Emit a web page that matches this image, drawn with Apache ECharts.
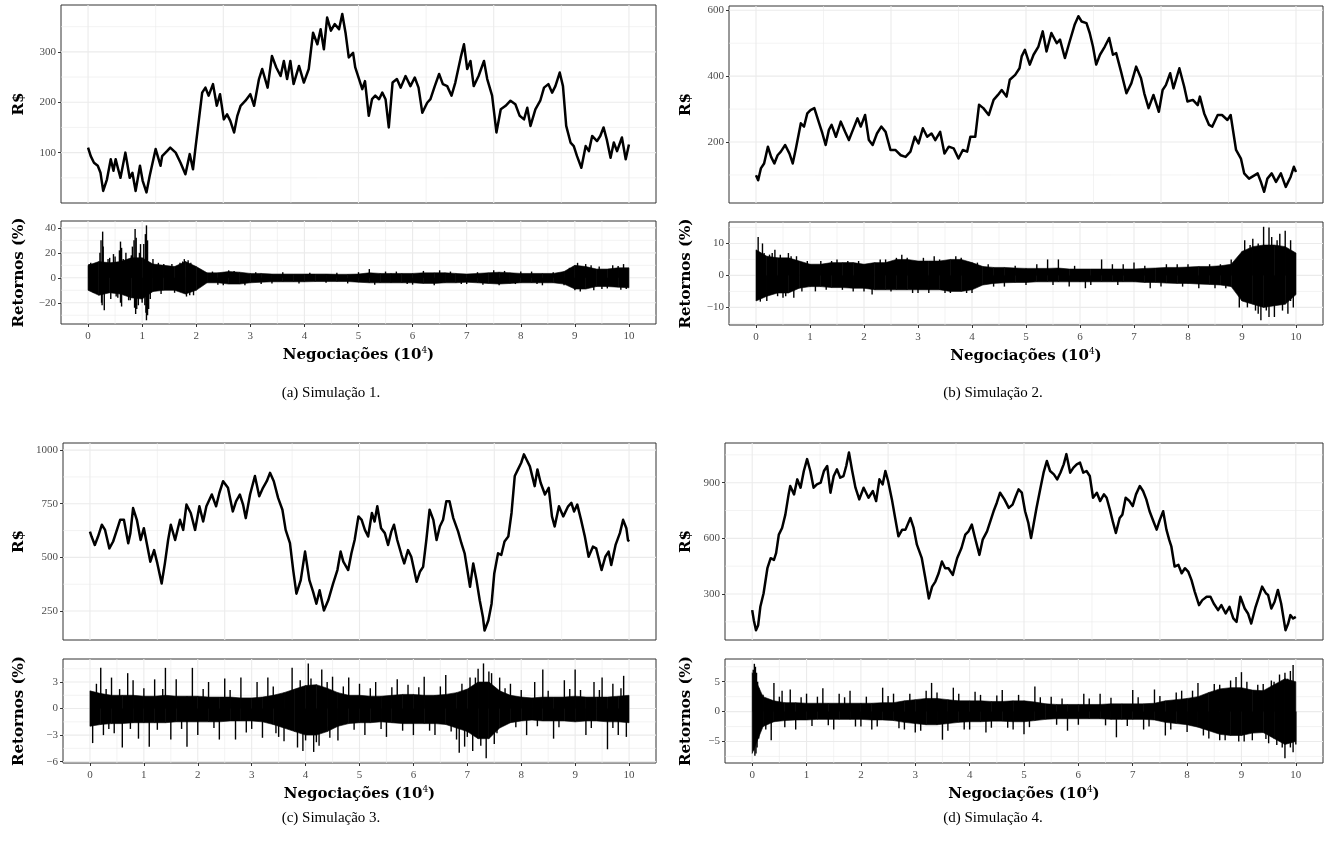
<!DOCTYPE html>
<html>
<head>
<meta charset="utf-8">
<script src="https://cdn.jsdelivr.net/npm/echarts@6/dist/echarts.min.js"></script>
<style>
html,body{margin:0;padding:0;background:#fff;}
#chart{width:1325px;height:849px;}
</style>
</head>
<body>
<div id="chart"></div>
<script>
// ---------- DATA ----------
// x unit: trades (10^4)
const xTicks = [0,1,2,3,4,5,6,7,8,9,10];
const xMinorTicks = [0.5,1.5,2.5,3.5,4.5,5.5,6.5,7.5,8.5,9.5];
const xPriceMajor = [0,2.5,5,7.5,10];
const xPriceMinor = [1.25,3.75,6.25,8.75];

// Price series [trades(10^4), R$]
const priceA = [[0,110],[0.05,93],[0.11,80],[0.18,74],[0.23,60],[0.28,24],[0.35,47],[0.42,87],[0.47,64],[0.51,87],[0.55,70],[0.60,50],[0.69,100],[0.77,50],[0.82,60],[0.88,24],[0.96,74],[1.01,44],[1.08,21],[1.14,54],[1.25,107],[1.34,74],[1.37,93],[1.46,103],[1.52,110],[1.62,100],[1.71,80],[1.80,57],[1.88,97],[1.94,67],[1.99,113],[2.05,166],[2.11,219],[2.17,229],[2.23,213],[2.31,236],[2.38,193],[2.44,216],[2.51,166],[2.57,176],[2.63,163],[2.70,140],[2.76,173],[2.82,193],[2.91,203],[3.00,216],[3.07,193],[3.16,246],[3.22,266],[3.32,229],[3.40,292],[3.48,269],[3.56,252],[3.62,282],[3.68,246],[3.74,282],[3.80,236],[3.90,272],[3.99,239],[4.08,266],[4.16,338],[4.24,315],[4.30,345],[4.36,305],[4.42,368],[4.49,342],[4.56,355],[4.64,345],[4.70,375],[4.76,338],[4.82,289],[4.90,298],[4.94,269],[5.07,226],[5.12,242],[5.19,173],[5.25,206],[5.31,213],[5.38,206],[5.44,219],[5.50,206],[5.56,150],[5.63,239],[5.71,246],[5.78,229],[5.87,252],[5.96,232],[6.04,249],[6.11,229],[6.18,179],[6.27,199],[6.33,206],[6.41,232],[6.49,256],[6.56,236],[6.64,232],[6.72,213],[6.79,239],[6.89,289],[6.95,315],[7.01,266],[7.07,282],[7.13,232],[7.22,252],[7.32,282],[7.38,246],[7.47,213],[7.55,140],[7.63,186],[7.72,193],[7.81,203],[7.90,196],[7.98,173],[8.06,166],[8.12,189],[8.18,153],[8.27,186],[8.36,203],[8.43,229],[8.51,236],[8.58,219],[8.64,232],[8.72,259],[8.78,232],[8.84,153],[8.92,120],[8.98,113],[9.04,93],[9.12,70],[9.20,113],[9.26,103],[9.32,133],[9.41,123],[9.47,133],[9.53,150],[9.59,126],[9.66,90],[9.72,120],[9.78,103],[9.87,130],[9.94,87],[10.00,116]];
const priceB = [[0,99],[0.04,84],[0.09,120],[0.15,135],[0.22,186],[0.28,155],[0.34,135],[0.40,160],[0.46,171],[0.54,191],[0.62,165],[0.68,135],[0.74,181],[0.83,257],[0.89,247],[0.95,287],[1.01,297],[1.08,303],[1.17,257],[1.23,226],[1.29,191],[1.35,237],[1.40,252],[1.48,216],[1.57,262],[1.65,231],[1.72,206],[1.78,231],[1.88,272],[1.94,247],[2.02,282],[2.09,206],[2.16,191],[2.24,226],[2.32,247],[2.40,231],[2.49,176],[2.58,176],[2.68,160],[2.77,155],[2.86,171],[2.94,216],[3.01,196],[3.09,242],[3.17,216],[3.25,226],[3.32,206],[3.41,231],[3.49,165],[3.57,186],[3.66,181],[3.75,150],[3.83,176],[3.91,171],[3.97,216],[4.06,216],[4.13,313],[4.21,303],[4.31,282],[4.40,328],[4.48,343],[4.55,358],[4.64,338],[4.70,389],[4.80,404],[4.88,424],[4.92,460],[4.98,480],[5.07,435],[5.14,465],[5.23,490],[5.31,536],[5.38,475],[5.47,531],[5.57,500],[5.63,511],[5.72,455],[5.81,506],[5.90,556],[5.97,582],[6.03,566],[6.12,561],[6.18,531],[6.24,490],[6.30,435],[6.37,465],[6.46,490],[6.54,516],[6.61,465],[6.67,470],[6.76,414],[6.86,348],[6.95,378],[7.04,429],[7.13,394],[7.19,348],[7.27,303],[7.36,343],[7.46,292],[7.53,358],[7.59,373],[7.67,409],[7.73,363],[7.84,424],[7.93,368],[7.99,323],[8.09,328],[8.18,312],[8.22,338],[8.30,287],[8.39,252],[8.45,247],[8.55,282],[8.63,282],[8.73,267],[8.79,282],[8.89,176],[8.98,150],[9.04,105],[9.13,89],[9.23,99],[9.29,105],[9.35,79],[9.41,49],[9.47,89],[9.55,105],[9.63,79],[9.72,105],[9.81,64],[9.90,94],[9.96,125],[10.00,109]];
const priceC = [[0,620],[0.03,597],[0.09,558],[0.15,597],[0.22,652],[0.28,628],[0.36,542],[0.43,574],[0.49,620],[0.56,675],[0.63,675],[0.71,566],[0.75,613],[0.80,730],[0.87,675],[0.94,581],[1.00,636],[1.06,558],[1.12,480],[1.19,534],[1.25,472],[1.33,378],[1.39,472],[1.45,581],[1.50,652],[1.58,581],[1.67,675],[1.73,628],[1.79,746],[1.87,707],[1.95,628],[2.03,738],[2.10,667],[2.16,738],[2.26,793],[2.34,738],[2.40,800],[2.47,855],[2.56,824],[2.65,714],[2.71,761],[2.78,793],[2.84,746],[2.89,683],[2.97,793],[3.06,879],[3.14,785],[3.21,824],[3.28,855],[3.34,894],[3.41,855],[3.49,777],[3.57,722],[3.63,628],[3.71,566],[3.77,441],[3.83,331],[3.91,394],[3.99,527],[4.07,394],[4.14,339],[4.20,284],[4.26,347],[4.34,253],[4.42,300],[4.51,378],[4.59,441],[4.65,527],[4.70,480],[4.79,441],[4.85,519],[4.91,581],[4.98,691],[5.04,675],[5.10,628],[5.16,597],[5.23,707],[5.28,667],[5.33,738],[5.40,636],[5.47,613],[5.53,558],[5.59,620],[5.64,652],[5.70,581],[5.78,511],[5.83,472],[5.90,534],[5.96,503],[6.06,386],[6.12,433],[6.18,456],[6.24,581],[6.30,722],[6.37,675],[6.43,581],[6.49,644],[6.55,675],[6.61,761],[6.67,761],[6.74,683],[6.83,620],[6.89,566],[6.95,519],[7.05,363],[7.11,472],[7.17,394],[7.23,300],[7.29,221],[7.32,159],[7.39,206],[7.45,284],[7.50,425],[7.57,519],[7.63,511],[7.69,574],[7.76,597],[7.82,707],[7.88,879],[7.94,910],[8.00,941],[8.05,980],[8.10,955],[8.16,924],[8.25,832],[8.30,910],[8.36,848],[8.44,793],[8.51,824],[8.57,691],[8.62,644],[8.70,738],[8.78,691],[8.87,738],[8.93,754],[8.98,714],[9.04,746],[9.11,675],[9.18,597],[9.25,503],[9.33,550],[9.39,542],[9.49,441],[9.56,503],[9.62,527],[9.67,464],[9.75,558],[9.83,613],[9.89,675],[9.95,636],[9.98,581],[10.00,574]];
const priceD = [[0,213],[0.03,159],[0.07,105],[0.11,132],[0.15,231],[0.21,304],[0.28,439],[0.34,493],[0.40,484],[0.44,520],[0.49,620],[0.55,656],[0.61,728],[0.67,837],[0.70,882],[0.77,837],[0.83,918],[0.89,873],[0.95,963],[1.01,1027],[1.07,963],[1.13,873],[1.19,891],[1.26,900],[1.32,963],[1.38,990],[1.44,846],[1.50,936],[1.56,972],[1.62,927],[1.68,936],[1.73,990],[1.78,1063],[1.84,963],[1.90,873],[1.97,810],[2.05,873],[2.14,819],[2.22,855],[2.28,801],[2.34,918],[2.40,891],[2.45,963],[2.50,909],[2.57,810],[2.63,710],[2.69,611],[2.76,647],[2.82,647],[2.91,710],[2.97,656],[3.03,566],[3.12,493],[3.18,394],[3.25,276],[3.31,340],[3.37,367],[3.43,412],[3.49,475],[3.55,439],[3.61,439],[3.69,403],[3.77,493],[3.85,548],[3.92,620],[3.98,638],[4.04,674],[4.10,602],[4.18,511],[4.24,593],[4.32,638],[4.38,692],[4.44,746],[4.50,792],[4.56,846],[4.64,810],[4.72,764],[4.79,782],[4.85,828],[4.90,864],[4.96,846],[5.02,746],[5.08,683],[5.13,602],[5.17,665],[5.23,764],[5.31,882],[5.36,954],[5.42,1017],[5.48,963],[5.55,945],[5.61,918],[5.67,954],[5.73,999],[5.78,1054],[5.85,954],[5.91,981],[5.97,999],[6.03,1008],[6.09,954],[6.15,963],[6.21,936],[6.27,819],[6.34,846],[6.40,801],[6.47,837],[6.52,819],[6.58,755],[6.64,683],[6.69,629],[6.76,710],[6.81,728],[6.87,819],[6.94,801],[7.00,774],[7.06,837],[7.13,882],[7.19,855],[7.25,810],[7.31,746],[7.38,692],[7.44,647],[7.50,701],[7.56,746],[7.62,647],[7.67,593],[7.71,557],[7.77,448],[7.84,457],[7.90,412],[7.96,439],[8.02,421],[8.08,376],[8.14,313],[8.22,240],[8.28,267],[8.36,285],[8.43,285],[8.49,249],[8.57,213],[8.63,240],[8.71,195],[8.78,231],[8.85,168],[8.91,150],[8.98,285],[9.06,222],[9.12,195],[9.18,141],[9.26,231],[9.32,285],[9.38,340],[9.45,304],[9.49,295],[9.55,222],[9.61,258],[9.67,322],[9.73,249],[9.81,105],[9.86,141],[9.90,186],[9.95,168],[10.00,177]];

// Returns (%) : dense envelope (upper / lower) sampled every 0.2 x 10^4 trades
const retX = [0,0.2,0.4,0.6,0.8,1,1.2,1.4,1.6,1.8,2,2.2,2.4,2.6,2.8,3,3.2,3.4,3.6,3.8,4,4.2,4.4,4.6,4.8,5,5.2,5.4,5.6,5.8,6,6.2,6.4,6.6,6.8,7,7.2,7.4,7.6,7.8,8,8.2,8.4,8.6,8.8,9,9.2,9.4,9.6,9.8,10];
const retHiA = [10,13,12,13,16,16,11,10,9,13,9,4,4,5,4.5,3.5,3.5,3,3,3,3,3,3,2.8,2.8,3,4,3.5,3.5,3.5,3.5,4,4,4,3.5,3,3.5,4,4.5,4,3.5,3.5,3.5,3.5,5,10,9,7,7,8,8];
const retLoA = [-10,-14,-12,-13,-16,-17,-11,-10,-10,-13,-10,-4,-4,-5,-5,-4,-3.5,-3.2,-3.2,-3.2,-3.2,-3,-3,-3,-3,-3.5,-4,-4,-4,-4,-4,-4.5,-4.5,-4,-4,-3.5,-4,-4.5,-5,-4.5,-4,-4,-4,-4,-5,-9,-9,-7,-7,-7.5,-8];
const retHiB = [8,6,5.5,5.5,4.5,3.5,3.5,4,4,4,3.5,4,4,5,5,4.5,4.5,4.5,5,5,4,2.8,2.5,2.5,2.3,2.2,2.2,2.2,2.3,2,2,2,2,2,2,2,2.2,2.3,2.5,2.5,2.6,2.8,2.8,3,3.5,7.5,9,9.5,9.5,9,7];
const retLoB = [-8,-6.5,-5.5,-5.5,-4,-3.5,-3.5,-3.8,-3.8,-4,-4,-4.5,-4.5,-4.5,-4.5,-4.5,-4.5,-4.5,-5,-5,-4.5,-3,-2.5,-2.3,-2.2,-2.2,-2,-2,-2,-2,-2,-2,-2,-2,-2,-2,-2.2,-2.2,-2.4,-2.5,-2.5,-2.7,-2.8,-3,-3.5,-8,-9,-10,-9.5,-9,-6];
const retHiC = [2,1.7,1.5,1.5,1.5,1.4,1.4,1.5,1.4,1.4,1.4,1.3,1.3,1.3,1.2,1.2,1.3,1.5,1.8,2.2,2.6,2.7,2.3,1.8,1.5,1.5,1.4,1.4,1.5,1.6,1.6,1.5,1.5,1.6,1.8,2.2,3,3,2,1.5,1.3,1.2,1.3,1.3,1.3,1.4,1.3,1.3,1.3,1.4,1.5];
const retLoC = [-2,-1.8,-1.7,-1.7,-1.6,-1.6,-1.6,-1.6,-1.5,-1.5,-1.5,-1.5,-1.5,-1.4,-1.4,-1.4,-1.5,-1.8,-2.2,-2.6,-3,-3,-2.6,-2,-1.7,-1.6,-1.6,-1.5,-1.6,-1.7,-1.7,-1.7,-1.7,-1.8,-2.2,-2.6,-3.4,-3.4,-2.2,-1.6,-1.4,-1.3,-1.4,-1.4,-1.4,-1.5,-1.4,-1.4,-1.5,-1.5,-1.6];
const retHiD = [6.5,2.5,1.8,1.5,1.5,1.4,1.4,1.4,1.4,1.4,1.4,1.4,1.5,1.5,1.8,2,2.2,2.2,2,1.8,1.8,1.8,1.7,1.7,1.8,1.8,1.6,1.3,1.2,1.2,1.2,1.2,1.2,1.3,1.3,1.3,1.3,1.4,1.8,2,2.2,2.5,3.2,3.8,4,4,3.6,3.5,4.5,5.5,5];
const retLoD = [-7,-2.5,-1.7,-1.5,-1.4,-1.4,-1.3,-1.3,-1.3,-1.3,-1.3,-1.4,-1.4,-1.5,-1.8,-2,-2.2,-2.2,-2,-1.8,-1.7,-1.7,-1.6,-1.6,-1.7,-1.7,-1.5,-1.3,-1.2,-1.2,-1.2,-1.2,-1.2,-1.3,-1.3,-1.3,-1.3,-1.4,-1.8,-2,-2.2,-2.6,-3.2,-3.8,-4,-4,-3.6,-3.5,-4.5,-5.5,-5];

// Returns (%) : isolated spikes and ragged fringe [trades(10^4), return]
const spikesA = [[0.02,11],[0.05,12],[0.08,-11],[0.1,-12],[0.15,11],[0.22,20],[0.24,30],[0.26,-22],[0.27,37],[0.28,25],[0.3,-26],[0.25,-20],[0.37,15],[0.4,16],[0.42,-17],[0.47,19],[0.5,17],[0.52,-15],[0.55,-16],[0.58,22],[0.6,29],[0.6,-20],[0.62,24],[0.62,-23],[0.65,15],[0.7,20],[0.75,-18],[0.78,-18],[0.8,18],[0.82,25],[0.85,30],[0.86,-24],[0.87,39],[0.88,-29],[0.89,32],[0.9,-25],[0.93,-22],[0.95,20],[0.97,27],[1.0,-20],[1.03,27],[1.05,-22],[1.06,35],[1.07,-28],[1.08,42],[1.08,-34],[1.1,30],[1.1,-30],[1.12,-25],[1.15,-17],[1.2,15],[1.3,12],[1.35,-13],[1.4,11],[1.55,11],[1.6,-12],[1.7,12],[1.75,13],[1.78,15],[1.82,-15],[1.85,14],[1.88,-14],[1.9,12],[1.95,-14],[2.1,5],[2.3,5],[2.4,-5.5],[2.5,-6],[2.6,6],[2.7,5.5],[2.9,-6],[3.1,4.5],[3.2,-5],[3.4,-4.5],[3.6,4.5],[3.9,-4.5],[4.1,4],[4.4,-4],[4.6,4],[4.8,-4.5],[5.0,4.5],[5.2,7],[5.3,-5.5],[5.5,5],[5.7,5],[5.9,-5],[6.0,-5.5],[6.2,5.5],[6.4,-6],[6.5,6],[6.7,5],[6.9,-5],[7.0,-5],[7.2,4.5],[7.3,-5.5],[7.5,6],[7.6,-6],[7.7,5.5],[7.9,-5],[8.0,5],[8.2,5],[8.3,-5],[8.4,-6],[8.6,4.5],[8.8,-6],[8.9,8],[9.0,-10],[9.05,12],[9.1,-11],[9.2,11],[9.3,10],[9.35,-10],[9.45,9],[9.5,-9],[9.6,-8.5],[9.7,10],[9.8,9.5],[9.85,-9.5],[9.9,11],[9.95,-9]];
const spikesB = [[0.04,12],[0.08,-8.2],[0.12,10],[0.15,7],[0.2,-8],[0.25,6.5],[0.3,7],[0.35,8],[0.4,-6.5],[0.45,6.5],[0.5,-7],[0.55,-6.5],[0.6,7],[0.65,6],[0.7,-7],[0.75,6],[0.85,-5],[0.95,4.5],[1.1,-5],[1.2,4.5],[1.3,-4.5],[1.4,4.5],[1.5,5],[1.6,-4.5],[1.7,4.5],[1.8,-5],[1.9,4.5],[2.0,-5],[2.15,-6],[2.3,5],[2.4,5],[2.5,-5],[2.6,5.5],[2.7,6.5],[2.8,5.5],[2.9,-5.5],[3.0,-5.5],[3.1,5.5],[3.2,-5.5],[3.3,6],[3.4,5],[3.5,-5.5],[3.6,-5.5],[3.7,6],[3.8,5.5],[3.9,-5.5],[4.0,-5.5],[4.1,4],[4.3,3.5],[4.4,-3.5],[4.6,-3.5],[4.8,3],[5.0,-3],[5.2,3.5],[5.4,5],[5.5,-3],[5.6,5],[5.8,-3.5],[5.9,3],[6.1,-4],[6.2,-3],[6.4,5],[6.6,3.5],[6.7,-3],[6.8,3.5],[7.0,4],[7.2,3],[7.3,-4],[7.5,-3.5],[7.6,3.5],[7.8,3.5],[7.9,-3.5],[8.0,3.5],[8.2,-4],[8.4,3.5],[8.5,-4],[8.6,3.5],[8.7,-4],[8.8,5],[8.9,4.5],[8.95,-10],[9.05,11],[9.1,-10],[9.15,9.5],[9.2,11.5],[9.25,-11],[9.3,-12],[9.3,10],[9.35,-14],[9.4,15.2],[9.45,-11],[9.5,15],[9.5,-13],[9.55,12],[9.6,-13],[9.65,11],[9.7,13],[9.75,-11],[9.8,14],[9.85,-12],[9.9,11],[9.9,-8],[9.95,-10]];
const spikesC = [[0.05,-3.9],[0.12,2.8],[0.2,4.6],[0.25,-3],[0.3,2.2],[0.35,-2.3],[0.4,3.5],[0.45,-2.8],[0.55,2.2],[0.6,-4.4],[0.7,4],[0.75,-2.3],[0.8,3.2],[0.9,-3.4],[1.0,2.3],[1.1,-4.3],[1.2,3.3],[1.25,-2.4],[1.35,2.2],[1.4,4.6],[1.5,-3.5],[1.6,3.3],[1.7,-2.3],[1.8,-4.3],[1.9,4.6],[2.0,-3],[2.1,2.2],[2.2,3],[2.3,-2.2],[2.4,-3.5],[2.5,3.4],[2.6,2.1],[2.7,-3.5],[2.8,3.5],[2.9,-2.7],[3.0,-2.3],[3.1,3],[3.2,-3.3],[3.3,3.5],[3.4,2.5],[3.45,-2.8],[3.5,-3.2],[3.6,-3.7],[3.75,4.6],[3.85,-4.4],[3.9,3.2],[3.95,-4.8],[4.0,-3.6],[4.05,5.1],[4.1,3.4],[4.15,-4.9],[4.2,-3.8],[4.25,-4.2],[4.3,4.4],[4.4,3],[4.45,-3.3],[4.5,3.6],[4.6,-3.6],[4.7,2.5],[4.8,3.5],[4.9,-2.4],[5.0,2.8],[5.1,-3],[5.2,2.3],[5.3,3.0],[5.4,-2.3],[5.5,-3.2],[5.6,2.4],[5.7,3.3],[5.8,-2.5],[5.9,2.7],[6.0,-3.0],[6.1,2.4],[6.2,3.6],[6.3,-2.5],[6.4,-3.0],[6.5,2.5],[6.6,3.8],[6.7,-2.6],[6.8,-3.5],[6.85,-5],[6.9,2.8],[6.95,-4.3],[7.0,-3.2],[7.05,3.5],[7.1,-4.8],[7.15,3.5],[7.2,4.5],[7.25,-4.2],[7.3,5.1],[7.35,-5.6],[7.4,4.2],[7.45,4.0],[7.5,-4],[7.55,-2.8],[7.6,3.5],[7.7,2.3],[7.8,2.8],[7.9,-2.1],[8.0,2.1],[8.1,-3],[8.25,3],[8.3,-2.0],[8.4,4.4],[8.5,2.0],[8.6,-3.4],[8.7,-2.1],[8.8,3.2],[8.9,2.2],[9.0,4.4],[9.1,2.1],[9.2,-3],[9.3,-2.2],[9.35,3],[9.45,2.1],[9.5,3.5],[9.6,-4.6],[9.7,2.8],[9.7,-2.2],[9.8,-3],[9.85,2.3],[9.9,3.7],[9.95,-3.2]];
const spikesD = [[0.02,7],[0.04,8],[0.06,7.5],[0.08,6.5],[0.1,5],[0.12,4],[0.03,-6.5],[0.05,-7.4],[0.07,-7],[0.09,-6],[0.12,-4.5],[0.2,2.8],[0.25,-3],[0.35,-4.8],[0.4,4.8],[0.5,2.5],[0.55,3.5],[0.6,-2.6],[0.7,3.7],[0.8,-3],[0.9,2.4],[1.0,3],[1.1,-2.4],[1.2,2.5],[1.3,3.9],[1.4,-2.3],[1.5,-3],[1.6,3],[1.7,2.4],[1.8,3.5],[1.9,-2.5],[2.0,-2.5],[2.1,2.5],[2.2,-3],[2.3,-2.5],[2.4,4],[2.5,2.6],[2.6,3],[2.7,-2.8],[2.8,-3],[2.9,3],[3.0,-3.5],[3.1,-3.2],[3.2,3.5],[3.3,4.8],[3.4,3.2],[3.5,-4.7],[3.6,-3.2],[3.7,4],[3.8,3],[3.9,-3],[4.0,-3],[4.1,3.3],[4.2,2.8],[4.3,-3.5],[4.4,-2.7],[4.5,2.7],[4.6,3.6],[4.7,-2.7],[4.8,-3],[4.9,2.8],[5.0,-3.8],[5.1,-2.6],[5.2,4.2],[5.3,2.4],[5.5,2.5],[5.6,-2.2],[5.7,2.2],[5.8,-3.2],[6.0,-2.2],[6.1,3],[6.2,2.2],[6.4,3],[6.5,-2.3],[6.6,2.3],[6.7,-4.3],[6.9,-2.4],[7.0,3.6],[7.1,2.4],[7.2,-3],[7.3,-2.5],[7.4,3.7],[7.5,2.6],[7.6,-4],[7.7,-3],[7.8,3.2],[7.9,3.5],[8.0,-3.4],[8.1,3.5],[8.2,4.8],[8.3,-4],[8.4,-4.5],[8.5,4.6],[8.6,4.5],[8.6,-4.8],[8.7,-4.8],[8.8,5.2],[8.9,5.8],[8.95,-5],[9.0,6.6],[9.05,-5],[9.1,5],[9.2,-4.8],[9.3,4.5],[9.4,4.6],[9.45,-4.6],[9.5,-5.3],[9.55,5.2],[9.6,5],[9.65,-5.6],[9.7,6.2],[9.75,-6],[9.8,6.5],[9.8,-7.8],[9.85,5.5],[9.9,6.8],[9.9,-6],[9.95,7.8],[9.95,-6.8],[10.0,-5.5]];

// Tick labels / gridlines of the y axes
const yPriceMajorA = [100,200,300], yPriceMinorA = [50,150,250,350];
const yPriceMajorB = [200,400,600], yPriceMinorB = [100,300,500];
const yPriceMajorC = [250,500,750,1000], yPriceMinorC = [375,625,875];
const yPriceMajorD = [300,600,900], yPriceMinorD = [150,450,750,1050];
const yRetMajorA = [-20,0,20,40], yRetMinorA = [-30,-10,10,30];
const yRetMajorB = [-10,0,10], yRetMinorB = [-15,-5,5,15];
const yRetMajorC = [-6,-3,0,3], yRetMinorC = [-4.5,-1.5,1.5,4.5];
const yRetMajorD = [-5,0,5], yRetMinorD = [-7.5,-2.5,2.5,7.5];

const captions = ['(a) Simulação 1.','(b) Simulação 2.','(c) Simulação 3.','(d) Simulação 4.'];

// ---------- CHART ----------
const FONT = "'Liberation Serif','DejaVu Serif',serif";
const TFONT = "'DejaVu Serif','Liberation Serif',serif";
const chart = echarts.init(document.getElementById('chart'), null, {renderer:'canvas'});

const panels = [
  {price:priceA, hi:retHiA, lo:retLoA, sp:spikesA, pMaj:yPriceMajorA, pMin:yPriceMinorA, rMaj:yRetMajorA, rMin:yRetMinorA,
   pRange:[0,393], rRange:[-37,45.5], pg:{left:61,top:5,width:595,height:198}, rg:{left:61,top:221,width:595,height:103}, gap:34, cap:[331,393]},
  {price:priceB, hi:retHiB, lo:retLoB, sp:spikesB, pMaj:yPriceMajorB, pMin:yPriceMinorB, rMaj:yRetMajorB, rMin:yRetMinorB,
   pRange:[15,613], rRange:[-15.5,16.7], pg:{left:729,top:6,width:594,height:197}, rg:{left:729,top:222,width:594,height:103}, gap:35, cap:[993,393]},
  {price:priceC, hi:retHiC, lo:retLoC, sp:spikesC, pMaj:yPriceMajorC, pMin:yPriceMinorC, rMaj:yRetMajorC, rMin:yRetMinorC,
   pRange:[115,1033], rRange:[-6.15,5.6], pg:{left:63,top:443,width:593,height:197}, rg:{left:63,top:659,width:593,height:104}, gap:36, cap:[331,818]},
  {price:priceD, hi:retHiD, lo:retLoD, sp:spikesD, pMaj:yPriceMajorD, pMin:yPriceMinorD, rMaj:yRetMajorD, rMin:yRetMinorD,
   pRange:[52,1114], rRange:[-8.6,8.8], pg:{left:725,top:443,width:598,height:197}, rg:{left:725,top:659,width:598,height:104}, gap:31, cap:[993,818]}
];

const fmt = v => (v < 0 ? '\u2212' + Math.abs(v) : String(v));
const grids = [], xAxes = [], yAxes = [], series = [], graphics = [];

function hLines(idx, vals, width) {
  return {type:'custom', xAxisIndex:idx, yAxisIndex:idx, silent:true, animation:false, z:1,
    data: vals.map(v => [0, v]), encode:{x:0, y:1}, clip:false,
    renderItem: (params, api) => {
      const cs = params.coordSys; const y = api.coord([0, api.value(1)])[1];
      return {type:'line', shape:{x1:cs.x, y1:y, x2:cs.x + cs.width, y2:y}, style:{stroke:'#EBEBEB', lineWidth:width}};
    }};
}
function vLines(idx, vals, width) {
  return {type:'custom', xAxisIndex:idx, yAxisIndex:idx, silent:true, animation:false, z:1,
    data: vals.map(v => [v, 0]), encode:{x:0, y:1}, clip:false,
    renderItem: (params, api) => {
      const cs = params.coordSys; const x = api.coord([api.value(0), 0])[0];
      return {type:'line', shape:{x1:x, y1:cs.y, x2:x, y2:cs.y + cs.height}, style:{stroke:'#EBEBEB', lineWidth:width}};
    }};
}

const tickLabel = {color:'#4D4D4D', fontSize:11, fontFamily:FONT};
const titleStyle = {color:'#000', fontSize:15, fontWeight:'bold', fontFamily:TFONT};

panels.forEach((p, k) => {
  const gi = k * 2, ri = k * 2 + 1;
  grids.push(Object.assign({show:true, borderColor:'#333333', borderWidth:1, backgroundColor:'#fff', containLabel:false}, p.pg));
  grids.push(Object.assign({show:true, borderColor:'#333333', borderWidth:1, backgroundColor:'#fff', containLabel:false}, p.rg));

  xAxes.push({gridIndex:gi, type:'value', min:-0.5, max:10.5, axisLine:{show:false, onZero:false}, axisTick:{show:false}, axisLabel:{show:false}, splitLine:{show:false}});
  xAxes.push({gridIndex:ri, type:'value', min:-0.5, max:10.5, axisLine:{show:false, onZero:false},
    axisTick:{show:true, length:3, inside:false, lineStyle:{color:'#333333', width:1}, customValues:xTicks},
    axisLabel:Object.assign({show:true, margin:7, customValues:xTicks, formatter:fmt}, tickLabel),
    splitLine:{show:false},
    name:'{n|Negociações (10}{s|4}{n|)}', nameLocation:'middle', nameGap:22,
    nameTextStyle:{rich:{n:Object.assign({}, titleStyle, {lineHeight:18}), s:{fontSize:9, fontFamily:TFONT, color:'#000', verticalAlign:'top', lineHeight:9}}}});

  yAxes.push({gridIndex:gi, type:'value', min:p.pRange[0], max:p.pRange[1], axisLine:{show:false, onZero:false},
    axisTick:{show:true, length:3, lineStyle:{color:'#333333', width:1}, customValues:p.pMaj},
    axisLabel:Object.assign({show:true, margin:5, customValues:p.pMaj, formatter:fmt}, tickLabel),
    splitLine:{show:false}, name:'R$', nameLocation:'middle', nameGap:p.gap, nameTextStyle:titleStyle});
  yAxes.push({gridIndex:ri, type:'value', min:p.rRange[0], max:p.rRange[1], axisLine:{show:false, onZero:false},
    axisTick:{show:true, length:3, lineStyle:{color:'#333333', width:1}, customValues:p.rMaj},
    axisLabel:Object.assign({show:true, margin:5, customValues:p.rMaj, formatter:fmt}, tickLabel),
    splitLine:{show:false}, name:'Retornos (%)', nameLocation:'middle', nameGap:p.gap, nameTextStyle:titleStyle});

  // grid lines
  series.push(hLines(gi, p.pMin, 0.6), hLines(gi, p.pMaj, 1.1), vLines(gi, xPriceMinor, 0.6), vLines(gi, xPriceMajor, 1.1));
  series.push(hLines(ri, p.rMin, 0.6), hLines(ri, p.rMaj, 1.1), vLines(ri, xMinorTicks, 0.6), vLines(ri, xTicks, 1.1));

  // price line
  series.push({type:'line', xAxisIndex:gi, yAxisIndex:gi, data:p.price, showSymbol:false, symbol:'none', z:5,
    lineStyle:{color:'#000', width:2.5, join:'round'}, silent:true, animation:false});

  // returns: dense envelope band
  const HI = p.hi, LO = p.lo;
  series.push({type:'custom', xAxisIndex:ri, yAxisIndex:ri, silent:true, animation:false, z:4,
    data: retX.map((x, i) => [x, LO[i], HI[i]]), encode:{x:0, y:[1,2]},
    renderItem: (params, api) => {
      const i = params.dataIndex;
      if (i >= retX.length - 1) return null;
      const pts = [api.coord([retX[i], HI[i]]), api.coord([retX[i+1], HI[i+1]]), api.coord([retX[i+1], LO[i+1]]), api.coord([retX[i], LO[i]])];
      return {type:'polygon', shape:{points:pts}, style:{fill:'#000', stroke:'#000', lineWidth:0.6}};
    }});
  // returns: spikes
  series.push({type:'custom', xAxisIndex:ri, yAxisIndex:ri, silent:true, animation:false, z:4,
    data: p.sp, encode:{x:0, y:1},
    renderItem: (params, api) => {
      const a = api.coord([api.value(0), 0]), b = api.coord([api.value(0), api.value(1)]);
      return {type:'line', shape:{x1:a[0], y1:a[1], x2:b[0], y2:b[1]}, style:{stroke:'#000', lineWidth:1.4}};
    }});

  graphics.push({type:'text', x:p.cap[0], y:p.cap[1], style:{text:captions[k], fill:'#000', font:'15px ' + FONT, textAlign:'center', textVerticalAlign:'middle'}});
});

chart.setOption({
  animation:false,
  backgroundColor:'#fff',
  grid:grids, xAxis:xAxes, yAxis:yAxes, series:series,
  graphic:graphics
});
</script>
</body>
</html>
